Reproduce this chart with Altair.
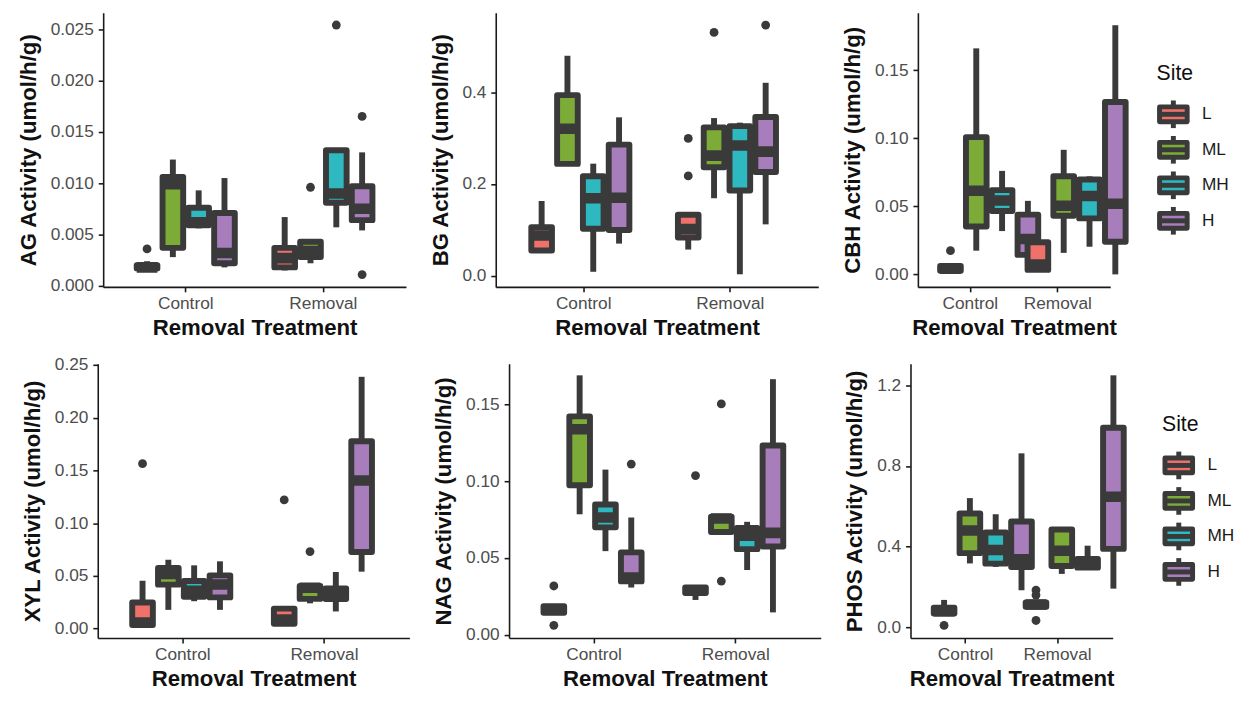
import altair as alt
import pandas as pd

SITES = ["L", "ML", "MH", "H"]
SITE_COLORS = ["#F0716A", "#7DAB38", "#2DB9BF", "#A77DBB"]
TREATMENTS = ["Control", "Removal"]
DARK = "#3a3a3a"
LEGEND_TITLE = ["Site"]

box_treat = ["Control"] * 4 + ["Removal"] * 4
box_site = SITES * 2

# ---- AG ----
AG_lower = [0.0015, 0.0028, 0.0056, 0.0018, 0.0015, 0.0022, 0.0057, 0.0054]
AG_q1 = [0.0017, 0.0037, 0.0059, 0.0022, 0.0018, 0.0028, 0.0081, 0.0064]
AG_med = [0.0018, 0.0099, 0.0062, 0.0032, 0.0027, 0.0034, 0.0090, 0.0075]
AG_q3 = [0.0020, 0.0106, 0.0076, 0.0071, 0.0037, 0.0043, 0.0132, 0.0097]
AG_upper = [0.0024, 0.0123, 0.0093, 0.0105, 0.0067, 0.0045, 0.0133, 0.0130]
AG_out_treat = ["Control", "Removal", "Removal", "Removal", "Removal"]
AG_out_site = ["L", "ML", "MH", "H", "H"]
AG_out_val = [0.0036, 0.0096, 0.0254, 0.0165, 0.0011]

# ---- BG ----
BG_lower = [0.052, 0.244, 0.0085, 0.070, 0.057, 0.169, 0.003, 0.112]
BG_q1 = [0.055, 0.244, 0.1025, 0.0996, 0.0834, 0.2367, 0.1859, 0.2261]
BG_med = [0.0875, 0.3208, 0.169, 0.170, 0.1018, 0.262, 0.284, 0.2707]
BG_q3 = [0.106, 0.394, 0.217, 0.286, 0.1329, 0.3237, 0.3265, 0.3463]
BG_upper = [0.163, 0.480, 0.2445, 0.3456, 0.135, 0.344, 0.334, 0.421]
BG_out_treat = ["Removal", "Removal", "Removal", "Removal"]
BG_out_site = ["L", "L", "ML", "H"]
BG_out_val = [0.2996, 0.2177, 0.531, 0.547]

# ---- CBH ----
CBH_lower = [0.002, 0.0174, 0.0318, 0.0074, 0.003, 0.0158, 0.0203, 0.0]
CBH_q1 = [0.0026, 0.0351, 0.0466, 0.0143, 0.0033, 0.043, 0.0411, 0.0239]
CBH_med = [0.0042, 0.0614, 0.0542, 0.026, 0.0072, 0.0504, 0.0576, 0.0518]
CBH_q3 = [0.0062, 0.1008, 0.0619, 0.0439, 0.0236, 0.0721, 0.0697, 0.1266]
CBH_upper = [0.0075, 0.166, 0.076, 0.054, 0.0334, 0.0915, 0.072, 0.183]
CBH_out_treat = ["Control"]
CBH_out_site = ["L"]
CBH_out_val = [0.0174]

# ---- XYL ----
XYL_lower = [0.003, 0.0178, 0.026, 0.0178, 0.003, 0.024, 0.0163, 0.054]
XYL_q1 = [0.0034, 0.0417, 0.0302, 0.0296, 0.0046, 0.0282, 0.028, 0.0727]
XYL_med = [0.0058, 0.0518, 0.0358, 0.0418, 0.0086, 0.0387, 0.033, 0.1405]
XYL_q3 = [0.0248, 0.0574, 0.0452, 0.0505, 0.019, 0.0405, 0.038, 0.1776]
XYL_upper = [0.0454, 0.0653, 0.060, 0.0638, 0.020, 0.041, 0.0537, 0.2387]
XYL_out_treat = ["Control", "Removal", "Removal"]
XYL_out_site = ["L", "L", "ML"]
XYL_out_val = [0.1564, 0.122, 0.073]

# ---- NAG ----
NAG_lower = [0.0144, 0.0785, 0.0545, 0.0308, 0.0227, 0.067, 0.0422, 0.0146]
NAG_q1 = [0.0144, 0.0974, 0.070, 0.0348, 0.0272, 0.067, 0.0558, 0.0575]
NAG_med = [0.0165, 0.1339, 0.0764, 0.0373, 0.029, 0.0757, 0.0645, 0.0664]
NAG_q3 = [0.0187, 0.1423, 0.0849, 0.0537, 0.0308, 0.077, 0.0696, 0.1233]
NAG_upper = [0.0187, 0.169, 0.1076, 0.0764, 0.0308, 0.077, 0.0736, 0.1665]
NAG_out_treat = ["Control", "Control", "Control", "Removal", "Removal", "Removal"]
NAG_out_site = ["L", "L", "H", "L", "ML", "ML"]
NAG_out_val = [0.0318, 0.0062, 0.1112, 0.1037, 0.1504, 0.035]

# ---- PHOS ----
PHOS_lower = [0.06, 0.317, 0.30, 0.184, 0.095, 0.265, 0.29, 0.192]
PHOS_q1 = [0.069, 0.368, 0.316, 0.299, 0.102, 0.304, 0.296, 0.389]
PHOS_med = [0.08, 0.48, 0.384, 0.337, 0.113, 0.38, 0.32, 0.648]
PHOS_q3 = [0.097, 0.565, 0.470, 0.525, 0.124, 0.485, 0.339, 0.99]
PHOS_upper = [0.136, 0.641, 0.561, 0.863, 0.13, 0.485, 0.405, 1.25]
PHOS_out_treat = ["Control", "Removal", "Removal", "Removal"]
PHOS_out_site = ["L", "L", "L", "L"]
PHOS_out_val = [0.0097, 0.185, 0.16, 0.034]

PANEL_H = 278
FILL_SCALE = alt.Scale(domain=SITES, range=SITE_COLORS)


def panel(ytitle, lower, q1, med, q3, upper, out_t, out_s, out_v,
          domain, ticks, fmt, width):
    box = pd.DataFrame({"Treatment": box_treat, "Site": box_site,
                        "lower": lower, "q1": q1, "median": med,
                        "q3": q3, "upper": upper})
    out = pd.DataFrame({"Treatment": out_t, "Site": out_s, "value": out_v})

    xenc = alt.X("Treatment:N",
                 scale=alt.Scale(domain=TREATMENTS, paddingInner=0.25, paddingOuter=0.225),
                 title="Removal Treatment", axis=alt.Axis(labelAngle=0))
    xoff = alt.XOffset("Site:N",
                       scale=alt.Scale(domain=SITES, paddingInner=0.2, paddingOuter=0.1))
    yscale = alt.Scale(domain=domain, nice=False, zero=False)
    yaxis = alt.Axis(values=ticks, format=fmt)

    def Y(field):
        return alt.Y(f"{field}:Q", scale=yscale, axis=yaxis, title=ytitle)

    base = alt.Chart(box)
    wl = base.mark_rule(color=DARK, strokeWidth=6).encode(
        x=xenc, xOffset=xoff, y=Y("lower"), y2="q1")
    wu = base.mark_rule(color=DARK, strokeWidth=6).encode(
        x=xenc, xOffset=xoff, y=Y("q3"), y2="upper")
    boxes = base.mark_bar(stroke=DARK, strokeWidth=6, strokeJoin="round", opacity=1).encode(
        x=xenc, xOffset=xoff, y=Y("q1"), y2="q3",
        fill=alt.Fill("Site:N", scale=FILL_SCALE, legend=None))
    meds = base.mark_bar(stroke=DARK, fill=DARK, strokeWidth=10.7).encode(
        x=xenc, xOffset=xoff, y=Y("median"), y2="median")
    pts = alt.Chart(out).mark_circle(color=DARK, size=80, opacity=1).encode(
        x=xenc, xOffset=xoff, y=Y("value"))
    return alt.layer(wl, wu, boxes, meds, pts).properties(width=width, height=PANEL_H)


def site_legend():
    entries = pd.DataFrame({"Site": SITES})
    title = pd.DataFrame({"t": LEGEND_TITLE})
    yenc = alt.Y("Site:N", axis=None, title=None,
                 scale=alt.Scale(domain=SITES, range=[95.5, 218.5],
                                 paddingInner=0.583, paddingOuter=0))
    base = alt.Chart(entries)
    stubs = base.mark_tick(orient="vertical", size=28, thickness=5, color=DARK,
                           opacity=1).encode(y=yenc, x=alt.value(21))
    boxes = base.mark_bar(stroke=DARK, strokeWidth=5, strokeJoin="round",
                          opacity=1).encode(
        y=yenc, x=alt.value(7), x2=alt.value(35),
        fill=alt.Fill("Site:N", scale=FILL_SCALE, legend=None))
    meds = base.mark_rule(color=DARK, strokeWidth=5).encode(
        y=yenc, x=alt.value(7), x2=alt.value(35))
    labels = base.mark_text(align="left", baseline="middle", fontSize=17.5,
                            color="#1a1a1a").encode(
        y=yenc, x=alt.value(50), text="Site:N")
    ttl = alt.Chart(title).mark_text(align="left", baseline="middle", fontSize=21.5,
                                     color="#111111").encode(
        x=alt.value(4), y=alt.value(62), text="t:N")
    return alt.layer(stubs, boxes, meds, labels, ttl).properties(width=78, height=PANEL_H)


p1 = panel("AG Activity (umol/h/g)", AG_lower, AG_q1, AG_med, AG_q3, AG_upper,
           AG_out_treat, AG_out_site, AG_out_val, [-0.0001, 0.0266],
           [0, 0.005, 0.01, 0.015, 0.02, 0.025], ".3f", 307)
p2 = panel("BG Activity (umol/h/g)", BG_lower, BG_q1, BG_med, BG_q3, BG_upper,
           BG_out_treat, BG_out_site, BG_out_val, [-0.0245, 0.574],
           [0, 0.2, 0.4], ".1f", 327)
p3 = panel("CBH Activity (umol/h/g)", CBH_lower, CBH_q1, CBH_med, CBH_q3, CBH_upper,
           CBH_out_treat, CBH_out_site, CBH_out_val, [-0.0092, 0.1922],
           [0, 0.05, 0.1, 0.15], ".2f", 195)
p4 = panel("XYL Activity (umol/h/g)", XYL_lower, XYL_q1, XYL_med, XYL_q3, XYL_upper,
           XYL_out_treat, XYL_out_site, XYL_out_val, [-0.0089, 0.251],
           [0, 0.05, 0.1, 0.15, 0.2, 0.25], ".2f", 316)
p5 = panel("NAG Activity (umol/h/g)", NAG_lower, NAG_q1, NAG_med, NAG_q3, NAG_upper,
           NAG_out_treat, NAG_out_site, NAG_out_val, [-0.0021, 0.1765],
           [0, 0.05, 0.1, 0.15], ".2f", 316)
p6 = panel("PHOS Activity (umol/h/g)", PHOS_lower, PHOS_q1, PHOS_med, PHOS_q3, PHOS_upper,
           PHOS_out_treat, PHOS_out_site, PHOS_out_val, [-0.053, 1.307],
           [0, 0.4, 0.8, 1.2], ".1f", 205)

row1 = alt.hconcat(p1, p2, alt.hconcat(p3, site_legend(), spacing=22), spacing=23)
row2 = alt.hconcat(p4, p5, alt.hconcat(p6, site_legend(), spacing=29), spacing=23)

chart = (
    alt.vconcat(row1, row2, spacing=17, center=True)
    .properties(padding={"left": 9, "top": 0, "right": 0, "bottom": 0}, background="white")
    .configure(font="Liberation Sans")
    .configure_view(stroke=None)
    .configure_axis(
        grid=False,
        domainColor="#1a1a1a", domainWidth=1.6,
        tickColor="#1a1a1a", tickWidth=1.6, tickSize=5,
        labelFont="Liberation Sans", labelFontSize=17.5, labelColor="#4d4d4d",
        titleFont="Liberation Sans", titleFontSize=22.5, titleFontWeight="bold",
        titleColor="#111111",
    )
    .configure_axisX(labelPadding=3, titlePadding=5)
    .configure_axisY(labelPadding=5, titlePadding=10)
)

chart.save("out.html", embed_options={"renderer": "svg", "actions": False})
